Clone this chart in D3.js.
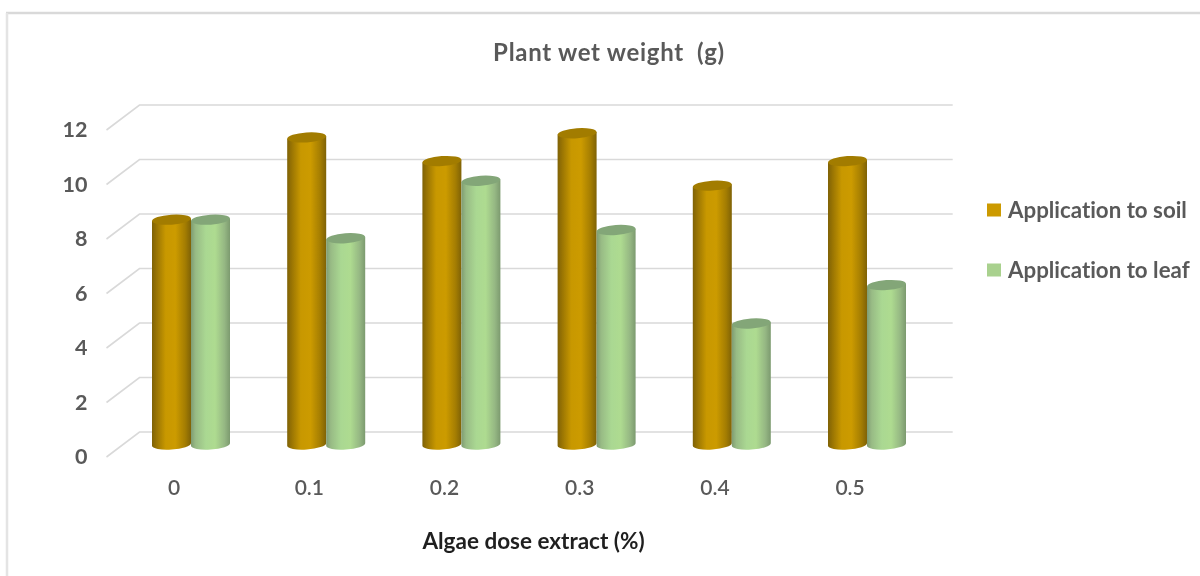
<!DOCTYPE html>
<html><head><meta charset="utf-8">
<script src="https://cdn.jsdelivr.net/npm/d3@7"></script>
<style>
html,body{margin:0;padding:0;background:#fff;overflow:hidden}
svg{display:block;filter:blur(0.55px)}
text{font-family:Lato,"Open Sans",sans-serif;font-variant-ligatures:none}
</style></head><body>
<svg id="c" width="1200" height="576"></svg>
<script>
const categories=["0","0.1","0.2","0.3","0.4","0.5"];
const soil=[8.25,11.27,10.4,11.42,9.5,10.4];
const leaf=[8.25,7.57,9.68,7.87,4.44,5.85];
const yTicks=[0,2,4,6,8,10,12];
const seriesNames=["Application to soil","Application to leaf"];
const titleText="Plant wet weight  (g)";
const xTitle="Algae dose extract (%)";

const svg=d3.select("#c");
const W=1200,H=576;
const depthX=33,depthY=25;
const x=d3.scaleBand().domain(categories).range([106.5,917.7]).paddingInner(0).paddingOuter(0);
const y=d3.scaleLinear().domain([0,12]).range([444.5,117.5]);
const inner=d3.scaleBand().domain([0,1]).range([-39,39]);

const defs=svg.append("defs");
function grad(id,stops){
  const g=defs.append("linearGradient").attr("id",id).attr("x1",0).attr("x2",1).attr("y1",0).attr("y2",0);
  stops.forEach(s=>g.append("stop").attr("offset",s[0]).attr("stop-color",s[1]));
}
grad("gSoil",[[0,"#7f6206"],[0.12,"#9a7503"],[0.35,"#c89800"],[0.6,"#cc9b00"],[0.85,"#a47d02"],[1,"#7f6206"]]);
grad("gLeaf",[[0,"#7f9c72"],[0.12,"#98bb85"],[0.38,"#aad892"],[0.62,"#aedb90"],[0.86,"#95b783"],[1,"#7c9a6f"]]);

// chart frame: top and left edges only
const frame=svg.append("g");
frame.append("line").attr("x1",6).attr("x2",W).attr("y1",13).attr("y2",13).attr("stroke","#d9d9d9").attr("stroke-width",2.5);
frame.append("line").attr("x1",7).attr("x2",7).attr("y1",13).attr("y2",H).attr("stroke","#e4e4e4").attr("stroke-width",2.5);

// gridlines: back wall and side wall
const grid=svg.append("g").attr("fill","none").attr("stroke","#d9d9d9").attr("stroke-width",1.6);
yTicks.forEach(t=>{
  const py=y(t);
  grid.append("path").attr("d",d3.line()([
    [x.range()[0],py+depthY/2],
    [x.range()[0]+depthX,py-depthY/2],
    [x.range()[1]+depthX+2,py-depthY/2]
  ]));
});

// axis labels
svg.append("g").selectAll("text").data(yTicks).join("text")
  .attr("x",87.5).attr("y",d=>y(d)+depthY/2-0.5).attr("dy","0.35em")
  .attr("text-anchor","end").attr("font-size",21.5).attr("font-weight",700).attr("fill","#595959").text(d=>d);
svg.append("g").selectAll("text").data(categories).join("text")
  .attr("x",d=>x(d)+x.bandwidth()/2).attr("y",488).attr("dy","0.35em")
  .attr("text-anchor","middle").attr("font-size",21).attr("font-weight",600).attr("fill","#595959").text(d=>d);

// cylinders
const rx=19.5,ry=5,tilt=-4;
function cyl(g,cx,val,fill,cap){
  const top=y(val),base=y(0);
  g.append("path").attr("fill",`url(#${fill})`)
    .attr("d",`M${cx-rx},${top+1.3}L${cx-rx},${base+1.3}A${rx},${ry} ${tilt} 0 0 ${cx+rx},${base-1.3}L${cx+rx},${top-1.3}Z`);
  g.append("ellipse").attr("cx",cx).attr("cy",top).attr("rx",rx).attr("ry",ry)
    .attr("transform",`rotate(${tilt} ${cx} ${top})`).attr("fill",cap);
}
const bars=svg.append("g");
categories.forEach((c,i)=>{
  const mid=x(c)+x.bandwidth()/2+depthX/2+0.4;
  cyl(bars,mid+inner.bandwidth()*-0.5,soil[i],"gSoil","#a27c00");
  cyl(bars,mid+inner.bandwidth()*0.5,leaf[i],"gLeaf","#83a678");
});

// title
svg.append("text").attr("x",609).attr("y",53).attr("dy","0.35em").attr("text-anchor","middle")
  .attr("font-size",24).attr("font-weight",700).attr("letter-spacing",0.7).attr("fill","#595959").style("white-space","pre").text(titleText);
svg.append("text").attr("x",533.5).attr("y",541).attr("dy","0.35em").attr("text-anchor","middle")
  .attr("font-size",22.5).attr("font-weight",700).attr("fill","#1f1f1f").text(xTitle);

// legend
const lg=svg.append("g");
const ly=d3.scalePoint().domain(seriesNames).range([210,270]);
const lc=d3.scaleOrdinal().domain(seriesNames).range(["#cc9a00","#a9d18e"]);
seriesNames.forEach(n=>{
  lg.append("rect").attr("x",987).attr("y",ly(n)-6.5).attr("width",14).attr("height",13).attr("fill",lc(n));
  lg.append("text").attr("x",1008).attr("y",ly(n)).attr("dy","0.35em").attr("font-size",22.3).attr("font-weight",700).attr("fill","#595959").text(n);
});
</script></body></html>
